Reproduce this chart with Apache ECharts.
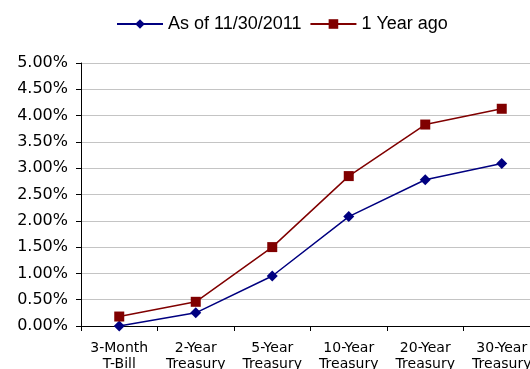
<!DOCTYPE html>
<html>
<head>
<meta charset="utf-8">
<script src="https://cdn.jsdelivr.net/npm/echarts@6/dist/echarts.min.js"></script>
<style>
  html, body { margin: 0; padding: 0; background: #fff; }
  #chart { width: 530px; height: 369px; }
</style>
</head>
<body>
<div id="chart"></div>
<script>
// maturities
var categories = ['3-Month\nT-Bill', '2-Year\nTreasury', '5-Year\nTreasury', '10-Year\nTreasury', '20-Year\nTreasury', '30-Year\nTreasury']
// yields in percent
var currentYields = [0.00, 0.25, 0.95, 2.08, 2.78, 3.09]
var yearAgoYields = [0.18, 0.46, 1.50, 2.85, 3.83, 4.13]
var currentName = 'As of 11/30/2011'
var yearAgoName = '1 Year ago'

var chart = echarts.init(document.getElementById('chart'))

var option = {
  animation: false,
  backgroundColor: '#fff',
  legend: {
    left: 111,
    top: 10,
    itemWidth: 46,
    itemHeight: 12,
    itemGap: 8,
    textStyle: {
      fontFamily: 'Liberation Sans',
      fontSize: 18,
      color: '#000'
    },
    data: [currentName, yearAgoName]
  },
  grid: {
    left: 81,
    top: 63,
    width: 459,
    bottom: 43,
    containLabel: false,
    outerBoundsMode: 'none'
  },
  xAxis: {
    type: 'category',
    data: categories,
    boundaryGap: true,
    axisLine: { lineStyle: { color: '#000', width: 1 } },
    axisTick: { show: true, length: 5, lineStyle: { color: '#000' } },
    axisLabel: {
      interval: 0,
      margin: 14,
      fontFamily: 'DejaVu Sans',
      fontSize: 14,
      lineHeight: 16,
      color: '#000'
    }
  },
  yAxis: {
    type: 'value',
    min: 0,
    max: 5,
    interval: 0.5,
    axisLine: { show: true, lineStyle: { color: '#000', width: 1 } },
    axisTick: { show: true, length: 5, lineStyle: { color: '#000' } },
    axisLabel: {
      margin: 13,
      fontFamily: 'DejaVu Sans',
      fontSize: 16,
      color: '#000',
      formatter: function (v) { return v.toFixed(2) + '%' }
    },
    splitLine: { lineStyle: { color: '#c4c4c4', width: 1 } }
  },
  series: [
    {
      name: currentName,
      type: 'line',
      data: currentYields,
      symbol: 'diamond',
      symbolSize: 11,
      color: '#000080',
      lineStyle: { color: '#000080', width: 1.5 },
      itemStyle: { color: '#000080', borderWidth: 0 }
    },
    {
      name: yearAgoName,
      type: 'line',
      data: yearAgoYields,
      symbol: 'rect',
      symbolSize: 10,
      color: '#800000',
      lineStyle: { color: '#800000', width: 1.5 },
      itemStyle: { color: '#800000', borderWidth: 0 }
    }
  ]
}

chart.setOption(option)
</script>
</body>
</html>
